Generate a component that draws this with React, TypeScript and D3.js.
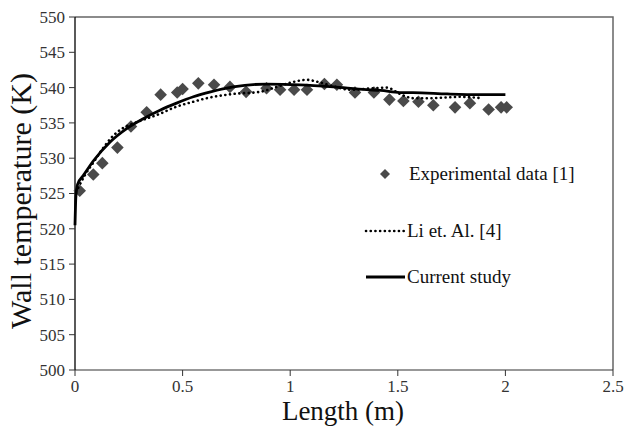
import React from "react";
import * as d3 from "d3";

const expX = [0.022, 0.085, 0.127, 0.197, 0.26, 0.333, 0.398, 0.475, 0.5, 0.573, 0.646, 0.72, 0.795, 0.89, 0.953, 1.018, 1.078, 1.159, 1.217, 1.301, 1.389, 1.461, 1.526, 1.596, 1.665, 1.766, 1.835, 1.922, 1.98, 2.006];
const expY = [525.4, 527.7, 529.3, 531.5, 534.5, 536.5, 539.0, 539.3, 539.8, 540.6, 540.4, 540.1, 539.4, 539.9, 539.7, 539.7, 539.7, 540.5, 540.4, 539.3, 539.3, 538.3, 538.1, 538.0, 537.5, 537.2, 537.8, 536.9, 537.2, 537.2];

const curX = [0, 0.004, 0.012, 0.04, 0.085, 0.163, 0.24, 0.317, 0.395, 0.472, 0.55, 0.63, 0.735, 0.89, 1.045, 1.2, 1.355, 1.42, 1.51, 1.57, 1.73, 1.88, 2.0];
const curY = [520.5, 524.5, 526.3, 527.6, 529.6, 532.3, 534.2, 535.6, 536.8, 537.8, 538.7, 539.4, 540.1, 540.5, 540.4, 540.1, 539.7, 539.6, 539.3, 539.3, 539.1, 539.0, 539.0];

const liX = [0.015, 0.046, 0.09, 0.13, 0.178, 0.225, 0.287, 0.395, 0.472, 0.55, 0.612, 0.736, 0.86, 0.937, 1.014, 1.077, 1.13, 1.2, 1.278, 1.386, 1.45, 1.51, 1.572, 1.65, 1.727, 1.79, 1.89];
const liY = [525.8, 527.6, 529.6, 531.4, 533.2, 534.3, 535.1, 536.3, 537.3, 538.0, 538.5, 539.1, 539.4, 540.1, 540.8, 541.1, 540.8, 540.2, 539.7, 539.9, 540.0, 539.1, 538.5, 538.5, 538.6, 538.7, 538.5];

const xTicks = [0, 0.5, 1, 1.5, 2, 2.5];
const yTicks = [500, 505, 510, 515, 520, 525, 530, 535, 540, 545, 550];

const legendLabels = ["Experimental data [1]", "Li et. Al. [4]", "Current study"];

const W = 627, H = 431;
const L = 75, R = 613, T = 17, B = 370;
const FONT = '"Liberation Serif", "Times New Roman", "DejaVu Serif", serif';

export default function App() {
  const x = d3.scaleLinear().domain([0, 2.5]).range([L, R]);
  const y = d3.scaleLinear().domain([500, 550]).range([B, T]);
  const line = d3.line<[number, number]>().x(d => x(d[0])).y(d => y(d[1])).curve(d3.curveMonotoneX);
  const curPath = line(curX.map((v, i) => [v, curY[i]] as [number, number])) || "";
  const liPath = line(liX.map((v, i) => [v, liY[i]] as [number, number])) || "";
  const diamond = (cx: number, cy: number, r: number) => `M${cx},${cy - r}L${cx + r},${cy}L${cx},${cy + r}L${cx - r},${cy}Z`;
  const ts = { fontFamily: FONT } as React.CSSProperties;
  return (
    <svg width={W} height={H} style={{ position: "absolute", left: 0, top: 0, background: "#fff", fontFamily: FONT }}>
      <rect x={0} y={0} width={W} height={H} fill="#fff" />
      <path d={`M${L},${T}H${R}V${B}`} fill="none" stroke="#666" strokeWidth={1.5} />
      <line x1={L} y1={B} x2={R} y2={B} stroke="#333" strokeWidth={1.2} />
      <line x1={L} y1={T} x2={L} y2={B} stroke="#000" strokeWidth={1.3} />
      {yTicks.map(t => (
        <g key={"y" + t}>
          <line x1={L - 6} x2={L} y1={y(t)} y2={y(t)} stroke="#333" strokeWidth={1} />
          <text style={ts} x={L - 10} y={y(t)} dy="0.35em" textAnchor="end" fontSize={17} fill="#333">{t}</text>
        </g>
      ))}
      {xTicks.map(t => (
        <g key={"x" + t}>
          <line x1={x(t)} x2={x(t)} y1={B} y2={B + 6} stroke="#333" strokeWidth={1} />
          <text style={ts} x={x(t)} y={B + 22} textAnchor="middle" fontSize={17} fill="#333">{t}</text>
        </g>
      ))}
      <text style={ts} x={343} y={420} textAnchor="middle" fontSize={27} fill="#111">Length (m)</text>
      <text style={ts} transform={`translate(31,201) rotate(-90)`} textAnchor="middle" fontSize={30} fill="#111">Wall temperature (K)</text>
      {expX.map((v, i) => (
        <path key={"e" + i} d={diamond(x(v), y(expY[i]), 6.3)} fill="#4a4a4a" />
      ))}
      <path d={liPath} fill="none" stroke="#000" strokeWidth={2.6} strokeDasharray="0.1 4.6" strokeLinecap="round" />
      <path d={curPath} fill="none" stroke="#000" strokeWidth={2.8} />
      <path d={diamond(385, 174, 5)} fill="#4a4a4a" />
      <text style={ts} x={409} y={180} fontSize={19} fill="#111">{legendLabels[0]}</text>
      <line x1={366} x2={405} y1={231} y2={231} stroke="#000" strokeWidth={2.6} strokeDasharray="0.1 4.6" strokeLinecap="round" />
      <text style={ts} x={407} y={237} fontSize={19} fill="#111">{legendLabels[1]}</text>
      <line x1={366} x2={405} y1={277} y2={277} stroke="#000" strokeWidth={2.8} />
      <text style={ts} x={407} y={283} fontSize={19} fill="#111">{legendLabels[2]}</text>
    </svg>
  );
}
